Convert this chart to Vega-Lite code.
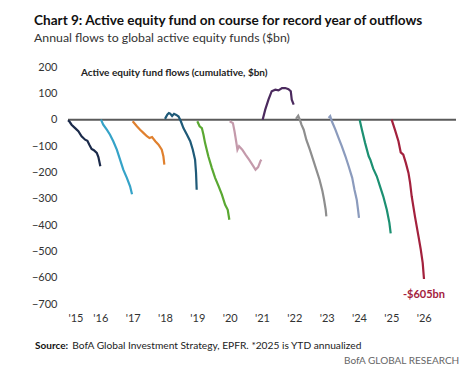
{
  "$schema": "https://vega.github.io/schema/vega-lite/v6.json",
  "width": 388,
  "height": 237,
  "autosize": {"type": "none"},
  "padding": {"left": 68, "top": 67, "right": 20, "bottom": 77},
  "background": "white",
  "config": {"view": {"stroke": null}, "font": "Lato"},
  "title": {
    "text": "Chart 9: Active equity fund on course for record year of outflows",
    "subtitle": "Annual flows to global active equity funds ($bn)",
    "anchor": "start",
    "frame": "group",
    "dx": -34,
    "font": "Lato",
    "fontSize": 13.6,
    "fontWeight": "bold",
    "color": "#111111",
    "subtitleFont": "Lato",
    "subtitleFontSize": 12.3,
    "subtitleColor": "#333333",
    "subtitlePadding": 4,
    "offset": 17
  },
  "datasets": {
    "flows": [
      {"s": "2015", "t": 2015.0, "v": -2}, {"s": "2015", "t": 2015.05, "v": -8}, {"s": "2015", "t": 2015.11, "v": -19}, {"s": "2015", "t": 2015.22, "v": -32}, {"s": "2015", "t": 2015.32, "v": -44}, {"s": "2015", "t": 2015.42, "v": -63}, {"s": "2015", "t": 2015.53, "v": -76}, {"s": "2015", "t": 2015.6, "v": -80}, {"s": "2015", "t": 2015.66, "v": -95}, {"s": "2015", "t": 2015.73, "v": -111}, {"s": "2015", "t": 2015.8, "v": -116}, {"s": "2015", "t": 2015.89, "v": -126}, {"s": "2015", "t": 2015.94, "v": -142}, {"s": "2015", "t": 2016.0, "v": -177},
      {"s": "2016", "t": 2016.02, "v": 0}, {"s": "2016", "t": 2016.09, "v": -19}, {"s": "2016", "t": 2016.2, "v": -38}, {"s": "2016", "t": 2016.3, "v": -57}, {"s": "2016", "t": 2016.4, "v": -82}, {"s": "2016", "t": 2016.51, "v": -114}, {"s": "2016", "t": 2016.61, "v": -152}, {"s": "2016", "t": 2016.71, "v": -190}, {"s": "2016", "t": 2016.82, "v": -221}, {"s": "2016", "t": 2016.92, "v": -253}, {"s": "2016", "t": 2016.98, "v": -283},
      {"s": "2017", "t": 2017.0, "v": -6}, {"s": "2017", "t": 2017.13, "v": -25}, {"s": "2017", "t": 2017.23, "v": -38}, {"s": "2017", "t": 2017.34, "v": -51}, {"s": "2017", "t": 2017.44, "v": -63}, {"s": "2017", "t": 2017.52, "v": -70}, {"s": "2017", "t": 2017.6, "v": -66}, {"s": "2017", "t": 2017.7, "v": -82}, {"s": "2017", "t": 2017.8, "v": -95}, {"s": "2017", "t": 2017.9, "v": -114}, {"s": "2017", "t": 2017.95, "v": -139}, {"s": "2017", "t": 2017.98, "v": -171},
      {"s": "2018", "t": 2018.0, "v": 3}, {"s": "2018", "t": 2018.07, "v": 19}, {"s": "2018", "t": 2018.12, "v": 25}, {"s": "2018", "t": 2018.16, "v": 23}, {"s": "2018", "t": 2018.22, "v": 14}, {"s": "2018", "t": 2018.28, "v": 22}, {"s": "2018", "t": 2018.35, "v": 18}, {"s": "2018", "t": 2018.42, "v": 12}, {"s": "2018", "t": 2018.49, "v": -6}, {"s": "2018", "t": 2018.57, "v": -32}, {"s": "2018", "t": 2018.68, "v": -57}, {"s": "2018", "t": 2018.78, "v": -82}, {"s": "2018", "t": 2018.86, "v": -114}, {"s": "2018", "t": 2018.93, "v": -152}, {"s": "2018", "t": 2018.96, "v": -202}, {"s": "2018", "t": 2018.98, "v": -266},
      {"s": "2019", "t": 2019.0, "v": -6}, {"s": "2019", "t": 2019.07, "v": -25}, {"s": "2019", "t": 2019.14, "v": -32}, {"s": "2019", "t": 2019.19, "v": -57}, {"s": "2019", "t": 2019.24, "v": -89}, {"s": "2019", "t": 2019.34, "v": -139}, {"s": "2019", "t": 2019.45, "v": -184}, {"s": "2019", "t": 2019.55, "v": -221}, {"s": "2019", "t": 2019.66, "v": -253}, {"s": "2019", "t": 2019.76, "v": -285}, {"s": "2019", "t": 2019.86, "v": -323}, {"s": "2019", "t": 2019.94, "v": -342}, {"s": "2019", "t": 2019.99, "v": -380},
      {"s": "2020", "t": 2020.0, "v": -6}, {"s": "2020", "t": 2020.1, "v": -13}, {"s": "2020", "t": 2020.15, "v": -44}, {"s": "2020", "t": 2020.2, "v": -82}, {"s": "2020", "t": 2020.24, "v": -114}, {"s": "2020", "t": 2020.29, "v": -101}, {"s": "2020", "t": 2020.39, "v": -114}, {"s": "2020", "t": 2020.49, "v": -133}, {"s": "2020", "t": 2020.6, "v": -152}, {"s": "2020", "t": 2020.7, "v": -171}, {"s": "2020", "t": 2020.8, "v": -190}, {"s": "2020", "t": 2020.88, "v": -180}, {"s": "2020", "t": 2020.95, "v": -158}, {"s": "2020", "t": 2020.98, "v": -152},
      {"s": "2021", "t": 2021.02, "v": 0}, {"s": "2021", "t": 2021.1, "v": 38}, {"s": "2021", "t": 2021.2, "v": 76}, {"s": "2021", "t": 2021.3, "v": 108}, {"s": "2021", "t": 2021.41, "v": 114}, {"s": "2021", "t": 2021.51, "v": 111}, {"s": "2021", "t": 2021.62, "v": 120}, {"s": "2021", "t": 2021.72, "v": 120}, {"s": "2021", "t": 2021.82, "v": 116}, {"s": "2021", "t": 2021.89, "v": 108}, {"s": "2021", "t": 2021.92, "v": 76}, {"s": "2021", "t": 2021.98, "v": 57},
      {"s": "2022", "t": 2022.05, "v": 3}, {"s": "2022", "t": 2022.12, "v": 15}, {"s": "2022", "t": 2022.17, "v": 0}, {"s": "2022", "t": 2022.22, "v": -19}, {"s": "2022", "t": 2022.29, "v": -38}, {"s": "2022", "t": 2022.37, "v": -76}, {"s": "2022", "t": 2022.48, "v": -114}, {"s": "2022", "t": 2022.58, "v": -152}, {"s": "2022", "t": 2022.68, "v": -190}, {"s": "2022", "t": 2022.78, "v": -228}, {"s": "2022", "t": 2022.87, "v": -272}, {"s": "2022", "t": 2022.92, "v": -304}, {"s": "2022", "t": 2022.97, "v": -342}, {"s": "2022", "t": 2022.99, "v": -367},
      {"s": "2023", "t": 2023.06, "v": 6}, {"s": "2023", "t": 2023.11, "v": 13}, {"s": "2023", "t": 2023.16, "v": -6}, {"s": "2023", "t": 2023.27, "v": -38}, {"s": "2023", "t": 2023.37, "v": -70}, {"s": "2023", "t": 2023.47, "v": -101}, {"s": "2023", "t": 2023.58, "v": -139}, {"s": "2023", "t": 2023.68, "v": -177}, {"s": "2023", "t": 2023.79, "v": -221}, {"s": "2023", "t": 2023.86, "v": -266}, {"s": "2023", "t": 2023.93, "v": -304}, {"s": "2023", "t": 2023.97, "v": -342}, {"s": "2023", "t": 2024.0, "v": -373},
      {"s": "2024", "t": 2024.02, "v": 0}, {"s": "2024", "t": 2024.09, "v": -38}, {"s": "2024", "t": 2024.19, "v": -89}, {"s": "2024", "t": 2024.3, "v": -139}, {"s": "2024", "t": 2024.35, "v": -152}, {"s": "2024", "t": 2024.44, "v": -186}, {"s": "2024", "t": 2024.55, "v": -215}, {"s": "2024", "t": 2024.65, "v": -253}, {"s": "2024", "t": 2024.75, "v": -291}, {"s": "2024", "t": 2024.86, "v": -342}, {"s": "2024", "t": 2024.94, "v": -392}, {"s": "2024", "t": 2024.98, "v": -432},
      {"s": "2025", "t": 2025.01, "v": 0}, {"s": "2025", "t": 2025.11, "v": -38}, {"s": "2025", "t": 2025.22, "v": -82}, {"s": "2025", "t": 2025.29, "v": -124}, {"s": "2025", "t": 2025.37, "v": -133}, {"s": "2025", "t": 2025.45, "v": -165}, {"s": "2025", "t": 2025.53, "v": -202}, {"s": "2025", "t": 2025.58, "v": -240}, {"s": "2025", "t": 2025.63, "v": -291}, {"s": "2025", "t": 2025.73, "v": -367}, {"s": "2025", "t": 2025.84, "v": -443}, {"s": "2025", "t": 2025.91, "v": -493}, {"s": "2025", "t": 2025.97, "v": -544}, {"s": "2025", "t": 2026.01, "v": -605}
    ],
    "zero": [{"t": 2015, "v": 0}, {"t": 2027, "v": 0}],
    "notes": [
      {"id": "inner", "t": 2015.4, "v": 178, "label": "Active equity fund flows (cumulative, $bn)"},
      {"id": "end", "t": 2026.01, "v": -664, "label": "-$605bn"},
      {"id": "src1", "t": 2013.98, "v": -861, "label": "Source:"},
      {"id": "src2", "t": 2015.13, "v": -861, "label": "BofA Global Investment Strategy, EPFR. *2025 is YTD annualized"},
      {"id": "brand", "t": 2027.1, "v": -918, "label": "BofA GLOBAL RESEARCH"}
    ]
  },
  "encoding": {
    "x": {
      "field": "t", "type": "quantitative",
      "scale": {"domain": [2015, 2027], "nice": false, "zero": false},
      "axis": {
        "values": [2015, 2016, 2017, 2018, 2019, 2020, 2021, 2022, 2023, 2024, 2025, 2026],
        "labelExpr": "\"'\" + substring(toString(datum.value), 2)",
        "labelOverlap": false,
        "title": null, "domain": false, "ticks": false, "grid": false,
        "labelFont": "Lato", "labelFontSize": 11, "labelColor": "#333333", "labelPadding": 8
      }
    },
    "y": {
      "field": "v", "type": "quantitative",
      "scale": {"domain": [-700, 200], "nice": false},
      "axis": {
        "values": [-700, -600, -500, -400, -300, -200, -100, 0, 100, 200],
        "labelOverlap": false,
        "title": null, "domain": false, "ticks": false, "grid": false,
        "labelFont": "Lato", "labelFontSize": 11, "labelColor": "#333333", "labelPadding": 11
      }
    }
  },
  "layer": [
    {
      "data": {"name": "zero"},
      "mark": {"type": "line", "color": "#5a5a5a", "strokeWidth": 2},
      "encoding": {}
    },
    {
      "data": {"name": "flows"},
      "mark": {"type": "line", "strokeWidth": 2.2, "interpolate": "linear"},
      "encoding": {
        "color": {
          "field": "s", "type": "nominal", "legend": null,
          "scale": {
            "domain": ["2015", "2016", "2017", "2018", "2019", "2020", "2021", "2022", "2023", "2024", "2025"],
            "range": ["#1b2a4a", "#35a3c8", "#e0802e", "#1f5a78", "#5aa832", "#c49aab", "#4b2a5e", "#8e8e8e", "#8b9bbd", "#1c9072", "#a3213d"]
          }
        }
      }
    },
    {
      "data": {"name": "notes"},
      "transform": [{"filter": "datum.id === 'inner'"}],
      "mark": {"type": "text", "align": "left", "baseline": "middle", "font": "Lato", "fontSize": 10, "fontWeight": "bold", "color": "#222222"},
      "encoding": {"text": {"field": "label"}}
    },
    {
      "data": {"name": "notes"},
      "transform": [{"filter": "datum.id === 'end'"}],
      "mark": {"type": "text", "align": "center", "baseline": "middle", "font": "Lato", "fontSize": 11, "fontWeight": "bold", "color": "#a3213d"},
      "encoding": {"text": {"field": "label"}}
    },
    {
      "data": {"name": "notes"},
      "transform": [{"filter": "datum.id === 'src1'"}],
      "mark": {"type": "text", "align": "left", "baseline": "middle", "font": "Lato", "fontSize": 10, "fontWeight": "bold", "color": "#111111"},
      "encoding": {"text": {"field": "label"}}
    },
    {
      "data": {"name": "notes"},
      "transform": [{"filter": "datum.id === 'src2'"}],
      "mark": {"type": "text", "align": "left", "baseline": "middle", "font": "Lato", "fontSize": 10.2, "color": "#222222"},
      "encoding": {"text": {"field": "label"}}
    },
    {
      "data": {"name": "notes"},
      "transform": [{"filter": "datum.id === 'brand'"}],
      "mark": {"type": "text", "align": "right", "baseline": "middle", "font": "Lato", "fontSize": 10, "color": "#666666"},
      "encoding": {"text": {"field": "label"}}
    }
  ]
}
